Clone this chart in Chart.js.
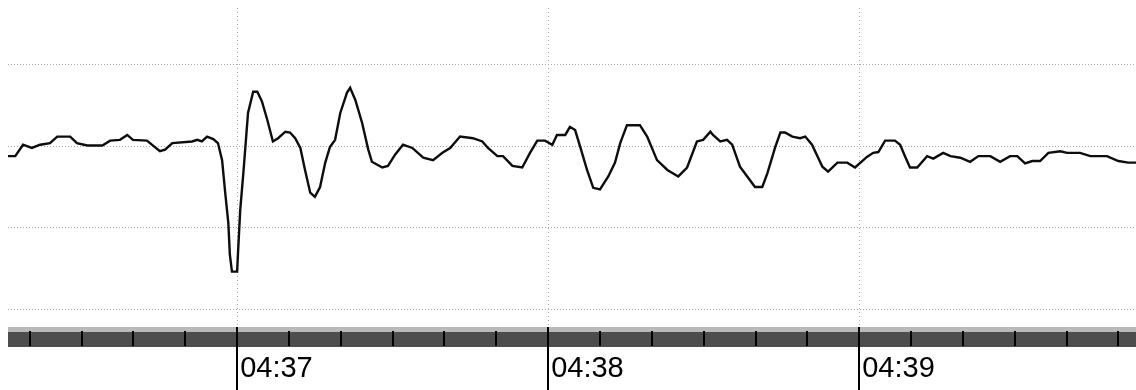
<!DOCTYPE html>
<html>
<head>
<meta charset="utf-8">
<title>Trace 04:37 - 04:39</title>
<script src="https://cdn.jsdelivr.net/npm/chart.js@4/dist/chart.umd.min.js"></script>
<style>
  html, body { margin: 0; padding: 0; background: #fff; }
  #wrap { width: 1136px; height: 390px; }
</style>
</head>
<body>
<div id="wrap"><canvas id="trace" width="1136" height="390"></canvas></div>
<script>
// seconds after 04:36:00
const TIMES = [
  15.8, 17.2, 18.7, 20.4, 22.0, 23.9, 25.3, 27.8, 29.1, 31.1,
  34.0, 35.5, 37.4, 38.8, 39.9, 42.6, 45.1, 46.1, 47.5, 51.3,
  52.3, 53.2, 54.2, 55.4, 56.3, 57.1, 57.7, 58.3, 58.6, 59.0,
  60.0, 60.2, 60.6, 61.2, 61.7, 62.1, 63.1, 63.9, 64.8, 65.8,
  66.9, 67.9, 69.3, 70.2, 71.2, 72.2, 73.1, 74.1, 75.0, 76.0,
  77.0, 77.9, 78.9, 79.9, 81.2, 81.8, 82.8, 84.1, 85.3, 86.0,
  88.0, 89.1, 90.5, 92.0, 93.8, 95.9, 97.8, 99.6, 101.1, 103.0,
  105.5, 107.3, 108.4, 110.2, 111.3, 113.1, 115.0, 116.5, 117.9, 119.4,
  120.8, 121.7, 123.3, 124.2, 125.2, 126.2, 127.5, 128.7, 130.0, 131.6,
  132.9, 133.9, 135.2, 137.7, 139.1, 141.0, 143.0, 145.1, 146.8, 148.7,
  149.9, 151.3, 151.8, 153.2, 154.5, 155.5, 157.0, 158.4, 159.9, 161.3,
  162.3, 163.8, 164.8, 165.7, 167.1, 168.6, 169.6, 170.9, 172.9, 174.0,
  175.8, 177.7, 179.2, 181.5, 182.7, 183.7, 185.0, 186.9, 187.9, 188.9,
  189.8, 191.2, 193.1, 194.3, 196.2, 197.6, 199.5, 201.4, 203.0, 205.3,
  207.2, 209.1, 210.5, 212.0, 213.4, 214.9, 216.5, 218.8, 220.1, 222.6,
  224.6, 226.5, 227.8, 230.0, 231.9, 233.4
];

const AMPS = [
  88, 88, 102, 98, 102, 104, 112, 112, 104, 101,
  101, 107, 108, 114, 108, 107, 94, 96, 104, 106,
  108, 106, 112, 109, 104, 83, 43, 6, -33, -54,
  -54, -27, 22, 67, 108, 141, 167, 167, 155, 133,
  106, 110, 118, 117, 110, 98, 71, 43, 38, 50,
  80, 99, 108, 141, 166, 172, 157, 129, 96, 81,
  74, 76, 90, 102, 98, 86, 83, 92, 98, 112,
  110, 106, 98, 88, 88, 76, 74, 92, 107, 107,
  102, 114, 114, 124, 120, 99, 71, 49, 47, 63,
  80, 104, 126, 126, 112, 83, 71, 63, 74, 106,
  108, 118, 114, 106, 108, 102, 75, 63, 50, 50,
  67, 99, 117, 117, 112, 110, 112, 102, 75, 69,
  80, 80, 74, 87, 92, 93, 107, 107, 102, 87,
  74, 74, 88, 85, 92, 88, 86, 81, 88, 88,
  81, 88, 88, 79, 82, 82, 92, 94, 92, 92,
  88, 88, 88, 82, 80, 80
];

const MAJOR_TICKS = [60, 120, 180];
const TICK_LABELS = ['04:37', '04:38', '04:39'];
const MINOR_STEP = 10;
const Y_GRID = [-100, 0, 100, 200];

const X_MIN = 15.8, X_MAX = 233.4;
const Y_MIN = -122, Y_MAX = 270;

// time bar under the plot: light strip, dark band, tick marks
const timeBar = {
  id: 'timeBar',
  afterDraw(chart) {
    const { ctx, chartArea } = chart;
    const xs = chart.scales.x;
    const top = chartArea.bottom;
    ctx.save();
    ctx.fillStyle = '#b9b9b9';
    ctx.fillRect(chartArea.left, top, chartArea.right - chartArea.left, 5);
    ctx.fillStyle = '#4d4d4d';
    ctx.fillRect(chartArea.left, top + 5, chartArea.right - chartArea.left, 15);
    ctx.fillStyle = '#000';
    xs.ticks.forEach(t => {
      const px = Math.round(xs.getPixelForValue(t.value));
      if (MAJOR_TICKS.includes(t.value)) {
        ctx.fillRect(px - 1, top, 2, chart.height - top);
      } else {
        ctx.fillRect(px - 1, top + 4, 2, 15);
      }
    });
    ctx.restore();
  }
};

new Chart(document.getElementById('trace'), {
  type: 'line',
  data: {
    datasets: [{
      data: TIMES.map((t, i) => ({ x: t, y: AMPS[i] })),
      borderColor: '#0d0d0d',
      borderWidth: 2.4,
      pointRadius: 0,
      tension: 0,
      fill: false
    }]
  },
  options: {
    responsive: false,
    animation: false,
    layout: { padding: { left: 8, top: 8, right: 0, bottom: 0 } },
    plugins: { legend: { display: false }, tooltip: { enabled: false } },
    scales: {
      x: {
        type: 'linear',
        min: X_MIN,
        max: X_MAX,
        afterBuildTicks: s => {
          const ticks = [];
          for (let v = Math.ceil(X_MIN / MINOR_STEP) * MINOR_STEP; v <= X_MAX; v += MINOR_STEP) ticks.push({ value: v });
          s.ticks = ticks;
        },
        afterFit: s => { s.height = 63; s.paddingLeft = 0; s.paddingRight = 0; },
        grid: {
          drawTicks: false,
          color: c => (c.tick && MAJOR_TICKS.includes(c.tick.value)) ? '#a9a9a9' : 'rgba(0,0,0,0)',
          lineWidth: 1
        },
        border: { display: false, dash: [1, 3] },
        ticks: {
          autoSkip: false,
          maxRotation: 0,
          align: 'start',
          labelOffset: 3,
          padding: 25,
          color: '#000',
          font: { family: "'Liberation Sans', Arial, sans-serif", size: 29 },
          callback: v => {
            const k = MAJOR_TICKS.indexOf(v);
            return k >= 0 ? TICK_LABELS[k] : '';
          }
        }
      },
      y: {
        min: Y_MIN,
        max: Y_MAX,
        afterBuildTicks: s => { s.ticks = Y_GRID.map(v => ({ value: v })); },
        afterFit: s => { s.width = 0; },
        grid: { drawTicks: false, color: '#aaaaaa', lineWidth: 1 },
        border: { display: false, dash: [1, 2] },
        ticks: { display: false }
      }
    }
  },
  plugins: [timeBar]
});
</script>
</body>
</html>
